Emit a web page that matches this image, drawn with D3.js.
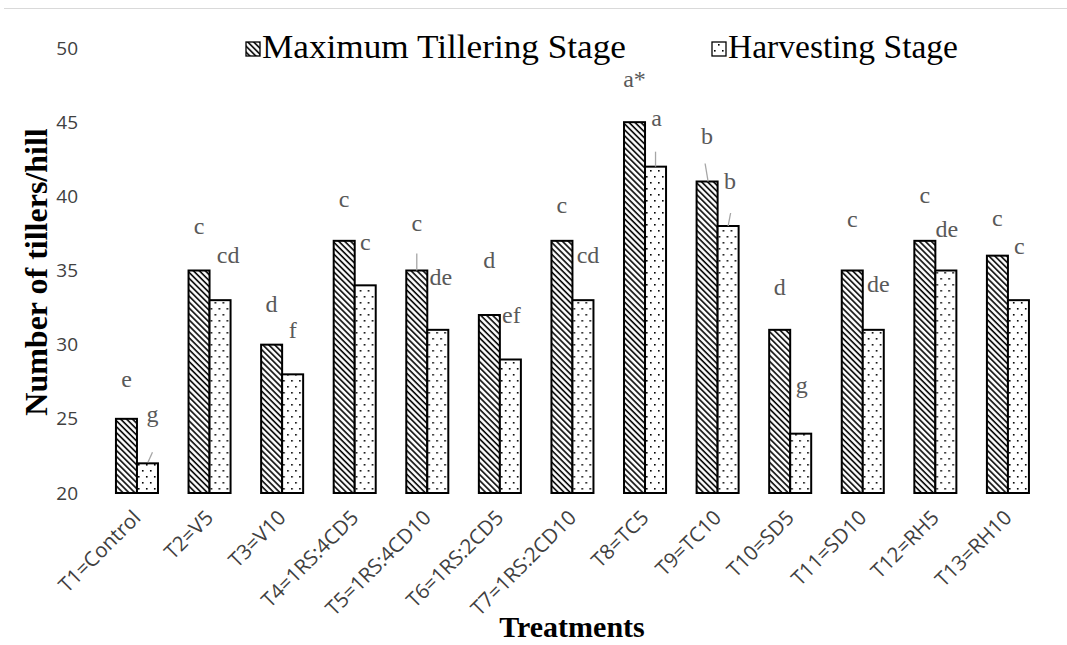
<!DOCTYPE html>
<html>
<head>
<meta charset="utf-8">
<script src="https://cdn.jsdelivr.net/npm/d3@7"></script>
<style>
  body { margin: 0; background: #fff; }
  svg { display: block; }
</style>
</head>
<body>
<div id="chart"></div>
<script>
// values
const categories = ["T1=Control", "T2=V5", "T3=V10", "T4=1RS:4CD5", "T5=1RS:4CD10",
  "T6=1RS:2CD5", "T7=1RS:2CD10", "T8=TC5", "T9=TC10", "T10=SD5", "T11=SD10", "T12=RH5", "T13=RH10"];
const seriesNames = ["Maximum Tillering Stage", "Harvesting Stage"];
const maxTillering = [25, 35, 30, 37, 35, 32, 37, 45, 41, 31, 35, 37, 36];
const harvesting = [22, 33, 28, 34, 31, 29, 33, 42, 38, 24, 31, 35, 33];
const lettersMax = ["e", "c", "d", "c", "c", "d", "c", "a*", "b", "d", "c", "c", "c"];
const lettersHarv = ["g", "cd", "f", "c", "de", "ef", "cd", "a", "b", "g", "de", "de", "c"];
const yTicks = [20, 25, 30, 35, 40, 45, 50];

// label nudges (dx from bar centre, dy from bar top), dragged by hand in the original
const nudgeMax = [[0,-32],[0,-37],[0,-33],[0,-34],[0,-40],[0,-47],[0,-28],[0,-35],[0,-38],[0,-35],[0,-44],[0,-38],[0,-30]];
const nudgeHarv = [[5,-41],[8,-37],[0,-36],[0,-35],[3,-45],[1,-37],[5,-37],[1,-41],[2,-37],[1,-41],[5,-38],[1,-34],[1,-46]];
// leader lines: [series, index, x1, y1, x2, y2] relative to bar centre/top
const leaders = [[1,0,5,-11,0.5,-1],[0,4,0,-17,0,0],[1,7,0,-15,0,0],[0,8,-2,-18,1,0],[1,8,2.5,-13,0,0]];

const W = 1067, H = 645;
const svg = d3.select("#chart").append("svg")
  .attr("width", W).attr("height", H)
  .attr("font-family", "Liberation Serif, Times New Roman, serif");

const defs = svg.append("defs");
const hatch = defs.append("pattern")
  .attr("id", "hatch").attr("patternUnits", "userSpaceOnUse")
  .attr("width", 4.2).attr("height", 10)
  .attr("patternTransform", "rotate(-45)");
hatch.append("rect").attr("width", 4.2).attr("height", 10).attr("fill", "#fff");
hatch.append("line").attr("x1", 1).attr("x2", 1).attr("y1", 0).attr("y2", 10)
  .attr("stroke", "#000").attr("stroke-width", 1.6);

const dots = defs.append("pattern")
  .attr("id", "dots").attr("patternUnits", "userSpaceOnUse")
  .attr("width", 8).attr("height", 12);
dots.append("rect").attr("width", 8).attr("height", 12).attr("fill", "#fff");
dots.append("rect").attr("x", 2).attr("y", 2).attr("width", 1.6).attr("height", 1.6).attr("fill", "#000");
dots.append("rect").attr("x", 6).attr("y", 8).attr("width", 1.6).attr("height", 1.6).attr("fill", "#000");

const fills = ["url(#hatch)", "url(#dots)"];

// chart border top
svg.append("line").attr("x1", 4).attr("x2", W).attr("y1", 8.5).attr("y2", 8.5)
  .attr("stroke", "#d9d9d9").attr("stroke-width", 1);

const x = d3.scaleBand().domain(categories).range([85.4, 1059.5]).padding(0.421);
const inner = d3.scaleBand().domain([0, 1]).range([0, x.bandwidth()]);
const y = d3.scaleLinear().domain([20, 50]).range([493, 48]);

const rows = categories.map((c, i) => ({
  cat: c, i,
  vals: [maxTillering[i], harvesting[i]],
  letters: [lettersMax[i], lettersHarv[i]],
  nudges: [nudgeMax[i], nudgeHarv[i]]
}));

// y axis
const yAxis = svg.append("g").attr("transform", "translate(88,0)")
  .call(d3.axisLeft(y).tickValues(yTicks).tickSize(0).tickPadding(10));
yAxis.select(".domain").remove();
yAxis.selectAll("text").attr("font-family", "Open Sans, sans-serif")
  .attr("font-size", 19).attr("fill", "#404040");

// bars
const groups = svg.append("g").selectAll("g").data(rows).join("g")
  .attr("transform", d => `translate(${x(d.cat)},0)`);

groups.selectAll("rect").data(d => d.vals.map((v, s) => ({ v, s }))).join("rect")
  .attr("x", d => inner(d.s))
  .attr("width", inner.bandwidth())
  .attr("y", d => y(d.v))
  .attr("height", d => y(20) - y(d.v))
  .attr("fill", d => fills[d.s])
  .attr("stroke", "#000").attr("stroke-width", 2);

// leader lines
svg.append("g").selectAll("line").data(leaders).join("line")
  .each(function (d) {
    const [s, i, x1, y1, x2, y2] = d;
    const cx = x(categories[i]) + inner(s) + inner.bandwidth() / 2;
    const top = y(s === 0 ? maxTillering[i] : harvesting[i]);
    d3.select(this).attr("x1", cx + x1).attr("y1", top + y1)
      .attr("x2", cx + x2).attr("y2", top + y2);
  })
  .attr("stroke", "#a6a6a6").attr("stroke-width", 1.3);

// letter labels
groups.selectAll("text.lbl").data(d => d.vals.map((v, s) => ({ v, s, t: d.letters[s], n: d.nudges[s] })))
  .join("text").attr("class", "lbl")
  .attr("x", d => inner(d.s) + inner.bandwidth() / 2 + d.n[0])
  .attr("y", d => y(d.v) + d.n[1])
  .attr("text-anchor", "middle")
  .attr("font-size", 24).attr("fill", "#595959")
  .text(d => d.t);

// x tick labels
const xAxis = svg.append("g").attr("transform", "translate(0,493)")
  .call(d3.axisBottom(x).tickSize(0).tickPadding(0));
xAxis.select(".domain").remove();
xAxis.selectAll("text")
  .attr("font-family", "Open Sans, sans-serif").attr("font-size", 20.5).attr("fill", "#404040")
  .attr("text-anchor", "end").attr("dy", null).attr("y", 0)
  .attr("transform", "translate(5,26) rotate(-45)");

// axis titles
svg.append("text")
  .attr("transform", "translate(47,272) rotate(-90)")
  .attr("text-anchor", "middle").attr("font-size", 32).attr("font-weight", "bold")
  .text("Number of tillers/hill");
svg.append("text")
  .attr("x", 572).attr("y", 637)
  .attr("text-anchor", "middle").attr("font-size", 30).attr("font-weight", "bold")
  .text("Treatments");

// legend
const legendX = [246, 712];
const legendLen = [364, 230];
const legend = svg.append("g").selectAll("g").data(seriesNames).join("g")
  .attr("transform", (d, i) => `translate(${legendX[i]},0)`);
legend.append("rect").attr("x", 0).attr("y", 42).attr("width", 14).attr("height", 14)
  .attr("fill", (d, i) => fills[i]).attr("stroke", "#000").attr("stroke-width", 1.3);
legend.append("text").attr("x", 16).attr("y", 58).attr("font-size", 33).attr("fill", "#000")
  .attr("textLength", (d, i) => legendLen[i]).attr("lengthAdjust", "spacingAndGlyphs")
  .text(d => d);
</script>
</body>
</html>
